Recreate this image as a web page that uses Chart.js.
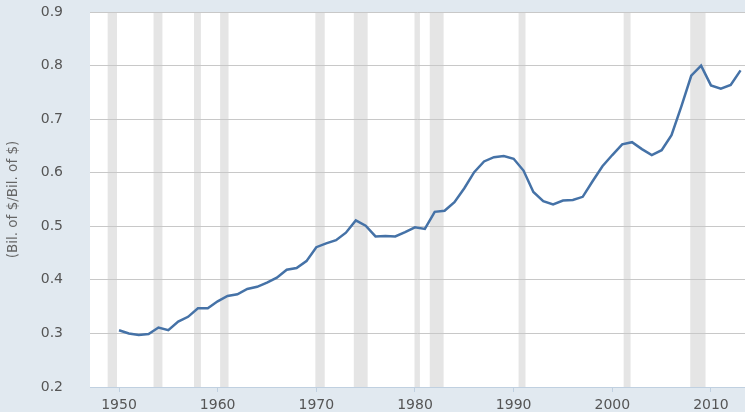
<!DOCTYPE html>
<html>
<head>
<meta charset="utf-8">
<script src="https://cdn.jsdelivr.net/npm/chart.js@4"></script>
<style>
  html, body { margin: 0; padding: 0; background: #e1e9f0; }
  #wrap { width: 745px; height: 412px; }
</style>
</head>
<body>
<div id="wrap"><canvas id="chart" width="745" height="412"></canvas></div>
<script>
// annual observations
var years = [];
for (var y = 1950; y <= 2013; y++) years.push(y);

var ratio = [
  0.306, 0.300, 0.297, 0.299, 0.311, 0.306, 0.322, 0.331, 0.347, 0.347,
  0.360, 0.370, 0.373, 0.383, 0.387, 0.395, 0.404, 0.419, 0.422, 0.435,
  0.461, 0.468, 0.474, 0.488, 0.511, 0.501, 0.481, 0.482, 0.481, 0.489,
  0.498, 0.495, 0.527, 0.529, 0.545, 0.571, 0.601, 0.621, 0.629, 0.631,
  0.626, 0.604, 0.564, 0.547, 0.541, 0.548, 0.549, 0.555, 0.584, 0.612,
  0.633, 0.653, 0.657, 0.644, 0.633, 0.642, 0.670, 0.724, 0.781, 0.800,
  0.763, 0.757, 0.764, 0.791
];

// recession periods (decimal years)
var recStart = [1948.85, 1953.5, 1957.6, 1960.25, 1969.9, 1973.8, 1979.95, 1981.5, 1990.5, 2001.15, 2007.9];
var recEnd   = [1949.8, 1954.4, 1958.3, 1961.1, 1970.85, 1975.2, 1980.5, 1982.9, 1991.2, 2001.85, 2009.45];

var xTicks = [1950, 1960, 1970, 1980, 1990, 2000, 2010];
var yTicks = [0.2, 0.3, 0.4, 0.5, 0.6, 0.7, 0.8, 0.9];

var points = years.map(function(yr, i){ return {x: yr, y: ratio[i]}; });

var shading = {
  id: 'shading',
  beforeDraw: function(chart){
    var ctx = chart.ctx, a = chart.chartArea, xs = chart.scales.x;
    ctx.save();
    ctx.fillStyle = '#ffffff';
    ctx.fillRect(a.left, a.top, a.right - a.left, a.bottom - a.top);
    ctx.fillStyle = '#e5e5e5';
    for (var i = 0; i < recStart.length; i++) {
      var x1 = Math.max(xs.getPixelForValue(recStart[i]), a.left);
      var x2 = Math.min(xs.getPixelForValue(recEnd[i]), a.right);
      ctx.fillRect(x1, a.top, x2 - x1, a.bottom - a.top);
    }
    ctx.restore();
  }
};

var font = { family: 'Verdana, "DejaVu Sans", sans-serif', size: 14 };

new Chart(document.getElementById('chart'), {
  type: 'line',
  data: {
    datasets: [{
      data: points,
      borderColor: '#4572a7',
      borderWidth: 2.5,
      pointRadius: 0,
      tension: 0,
      fill: false
    }]
  },
  options: {
    responsive: false,
    animation: false,
    layout: { padding: { top: 12, right: 0, left: 0, bottom: 0 } },
    plugins: { legend: { display: false }, tooltip: { enabled: false } },
    scales: {
      x: {
        type: 'linear',
        min: 1947.06,
        max: 2013.45,
        afterBuildTicks: function(s){ s.ticks = xTicks.map(function(v){ return {value: v}; }); },
        afterFit: function(s){ s.height = 25; s.paddingLeft = 0; s.paddingRight = 0; },
        grid: { display: true, drawOnChartArea: false, drawTicks: true, tickLength: 5, color: '#c0d0e0' },
        border: { display: true, color: '#c0d0e0', width: 1 },
        ticks: {
          font: font, color: '#555', padding: 5, maxRotation: 0,
          callback: function(v){ return String(v); }
        }
      },
      y: {
        min: 0.2,
        max: 0.9,
        afterBuildTicks: function(s){ s.ticks = yTicks.map(function(v){ return {value: v}; }); },
        afterFit: function(s){ s.width = 90; s.paddingTop = 0; s.paddingBottom = 0; },
        grid: { color: '#c8c8c8', lineWidth: 1, drawTicks: false },
        border: { display: false },
        ticks: {
          font: font, color: '#555', padding: 27,
          callback: function(v){ return v.toFixed(1); }
        },
        title: {
          display: true,
          text: '(Bil. of $/Bil. of $)',
          color: '#666',
          font: { family: 'Verdana, "DejaVu Sans", sans-serif', size: 13.5 },
          padding: { top: 5, bottom: 0 }
        }
      }
    }
  },
  plugins: [shading]
});
</script>
</body>
</html>
